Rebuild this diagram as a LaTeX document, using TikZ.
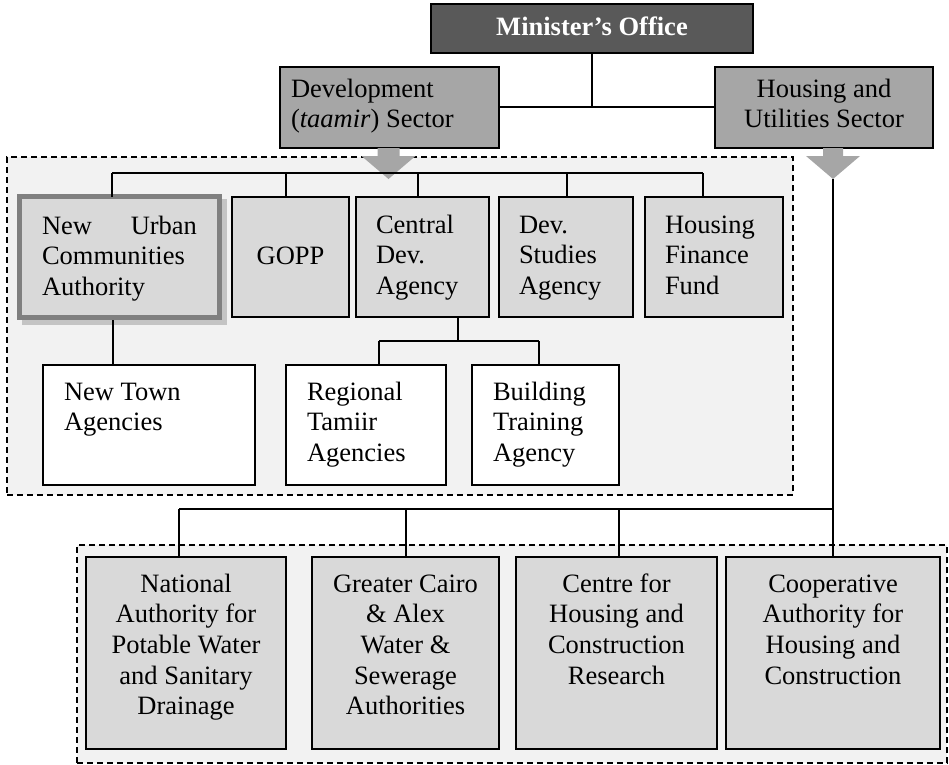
\documentclass[tikz,border=0pt]{standalone}
\usepackage{fontspec}
\setmainfont{Liberation Serif}
\usetikzlibrary{calc}

\definecolor{minfill}{HTML}{595959}
\definecolor{secfill}{HTML}{A6A6A6}
\definecolor{boxfill}{HTML}{D9D9D9}
\definecolor{regfill}{HTML}{F2F2F2}
\definecolor{nucaline}{HTML}{808080}
\definecolor{shadowc}{HTML}{C4C4C4}

\tikzset{
  box/.style={draw=black, line width=1.8pt, inner sep=0pt, outer sep=0pt, anchor=north west},
  minbox/.style={box, fill=minfill},
  secbox/.style={box, fill=secfill},
  orgbox/.style={box, fill=boxfill},
  subbox/.style={box, fill=white},
  keybox/.style={box, draw=nucaline, line width=5pt, fill=boxfill},
  region/.style={draw=black, line width=1.8pt, dash pattern=on 6pt off 4pt, fill=regfill,
                 inner sep=0pt, outer sep=0pt, anchor=north west},
  label/.style={inner sep=0pt, outer sep=0pt, font=\fontsize{26.5}{30.7}\selectfont},
  link/.style={draw=black, line width=1.8pt},
  blockarrow/.style={fill=secfill, draw=none}
}

% box text set as a top-aligned paragraph
\newcommand{\lefttext}[2]{\parbox[t]{#1}{\raggedright #2}}
\newcommand{\midtext}[2]{\parbox[t]{#1}{\centering #2}}

\begin{document}
\begin{tikzpicture}[x=1pt, y=-1pt]
\useasboundingbox (0,0) rectangle (949,764);

% dashed groupings
\node[region, minimum width=786, minimum height=338] (devgroup) at (7,157) {};
\node[region, minimum width=870, minimum height=218] (hugroup) at (77,545) {};

% top level
\node[minbox, minimum width=322, minimum height=49] (minister) at (431,4) {};
\node[label, anchor=base, text=white, font=\fontsize{26.5}{30.7}\selectfont\bfseries] (minister-t) at (592,35) {Minister’s Office};

\node[secbox, minimum width=219, minimum height=81] (dev) at (280,67) {};
\node[label, anchor=base west] (dev-t) at (291,97)
  {\lefttext{205pt}{Development\\(\textit{taamir}) Sector}};

\node[secbox, minimum width=218, minimum height=81] (hus) at (715,67) {};
\node[label, anchor=base] (hus-t) at (824,97)
  {\midtext{210pt}{Housing and\\Utilities Sector}};

\coordinate (mjoin) at (592,107);
\draw[link] (minister.south -| mjoin) -- (mjoin);
\draw[link] (dev.east |- mjoin) -- (hus.west |- mjoin);

% block arrows below the two sectors
\coordinate (devtip) at (388.5,179);
\coordinate (hustip) at (833,179);
\fill[blockarrow] ($(devtip|-dev.south)+(-11,0)$) -- ($(devtip|-dev.south)+(11,0)$)
  -- ($(devtip)+(11,-23)$) -- ($(devtip)+(27,-23)$) -- (devtip)
  -- ($(devtip)+(-27,-23)$) -- ($(devtip)+(-11,-23)$) -- cycle;
\fill[blockarrow] ($(hustip|-hus.south)+(-10,0)$) -- ($(hustip|-hus.south)+(10,0)$)
  -- ($(hustip)+(10,-23)$) -- ($(hustip)+(27,-23)$) -- (hustip)
  -- ($(hustip)+(-27,-23)$) -- ($(hustip)+(-10,-23)$) -- cycle;

% development sector: first row
\fill[shadowc] (22,199) rectangle (227,325);
\node[keybox, minimum width=200, minimum height=121] (nuca) at (19.5,196.5) {};
\node[label, anchor=base west] (nuca-t) at (42,234)
  {\parbox[t]{155pt}{New\hfill Urban\\Communities\\Authority}};

\node[orgbox, minimum width=117, minimum height=120] (gopp) at (232,197) {};
\node[label, anchor=base] (gopp-t) at (290.5,264) {GOPP};

\node[orgbox, minimum width=133, minimum height=120] (cda) at (356,197) {};
\node[label, anchor=base west] (cda-t) at (376,233)
  {\lefttext{110pt}{Central\\Dev.\\Agency}};

\node[orgbox, minimum width=134, minimum height=120] (dsa) at (499,197) {};
\node[label, anchor=base west] (dsa-t) at (519,233)
  {\lefttext{110pt}{Dev.\\Studies\\Agency}};

\node[orgbox, minimum width=138, minimum height=120] (hff) at (645,197) {};
\node[label, anchor=base west] (hff-t) at (665,233)
  {\lefttext{115pt}{Housing\\Finance\\Fund}};

% first row bus
\coordinate (d1) at (112,173);
\coordinate (d2) at (286,173);
\coordinate (d3) at (418,173);
\coordinate (d4) at (567,173);
\coordinate (d5) at (703,173);
\draw[link] (d1) -- (d5);
\draw[link] (d1) -- (d1 |- nuca.north);
\draw[link] (d2) -- (d2 |- gopp.north);
\draw[link] (d3) -- (d3 |- cda.north);
\draw[link] (d4) -- (d4 |- dsa.north);
\draw[link] (d5) -- (d5 |- hff.north);

% development sector: second row
\node[subbox, minimum width=212, minimum height=120] (nta) at (43,365) {};
\node[label, anchor=base west] (nta-t) at (64,400)
  {\lefttext{180pt}{New Town\\Agencies}};

\node[subbox, minimum width=160, minimum height=120] (rta) at (286,365) {};
\node[label, anchor=base west] (rta-t) at (307,400)
  {\lefttext{130pt}{Regional\\Tamiir\\Agencies}};

\node[subbox, minimum width=147, minimum height=120] (bta) at (472,365) {};
\node[label, anchor=base west] (bta-t) at (493,400)
  {\lefttext{120pt}{Building\\Training\\Agency}};

\coordinate (nucadrop) at (113,320);
\draw[link] (nucadrop) -- (nucadrop |- nta.north);

\coordinate (cjoin) at (458,341);
\coordinate (c1) at (379,341);
\coordinate (c2) at (539,341);
\draw[link] (cjoin |- cda.south) -- (cjoin);
\draw[link] (c1) -- (c2);
\draw[link] (c1) -- (c1 |- rta.north);
\draw[link] (c2) -- (c2 |- bta.north);

% housing and utilities sector
\node[orgbox, minimum width=200, minimum height=192] (napw) at (86,557) {};
\node[label, anchor=base] (napw-t) at (186,592)
  {\midtext{196pt}{National\\Authority for\\Potable Water\\and Sanitary\\Drainage}};

\node[orgbox, minimum width=187, minimum height=192] (gcaw) at (312,557) {};
\node[label, anchor=base] (gcaw-t) at (405.5,592)
  {\midtext{183pt}{Greater Cairo\\\& Alex\\Water \&\\Sewerage\\Authorities}};

\node[orgbox, minimum width=201, minimum height=192] (chcr) at (516,557) {};
\node[label, anchor=base] (chcr-t) at (616.5,592)
  {\midtext{197pt}{Centre for\\Housing and\\Construction\\Research}};

\node[orgbox, minimum width=214, minimum height=192] (cahc) at (726,557) {};
\node[label, anchor=base] (cahc-t) at (833,592)
  {\midtext{210pt}{Cooperative\\Authority for\\Housing and\\Construction}};

\coordinate (h1) at (179,509);
\coordinate (h2) at (406,509);
\coordinate (h3) at (619,509);
\coordinate (h4) at (833,509);
\draw[link] (hustip) -- (h4);
\draw[link] (h1) -- (h4);
\draw[link] (h1) -- (h1 |- napw.north);
\draw[link] (h2) -- (h2 |- gcaw.north);
\draw[link] (h3) -- (h3 |- chcr.north);
\draw[link] (h4) -- (h4 |- cahc.north);
\end{tikzpicture}
\end{document}
